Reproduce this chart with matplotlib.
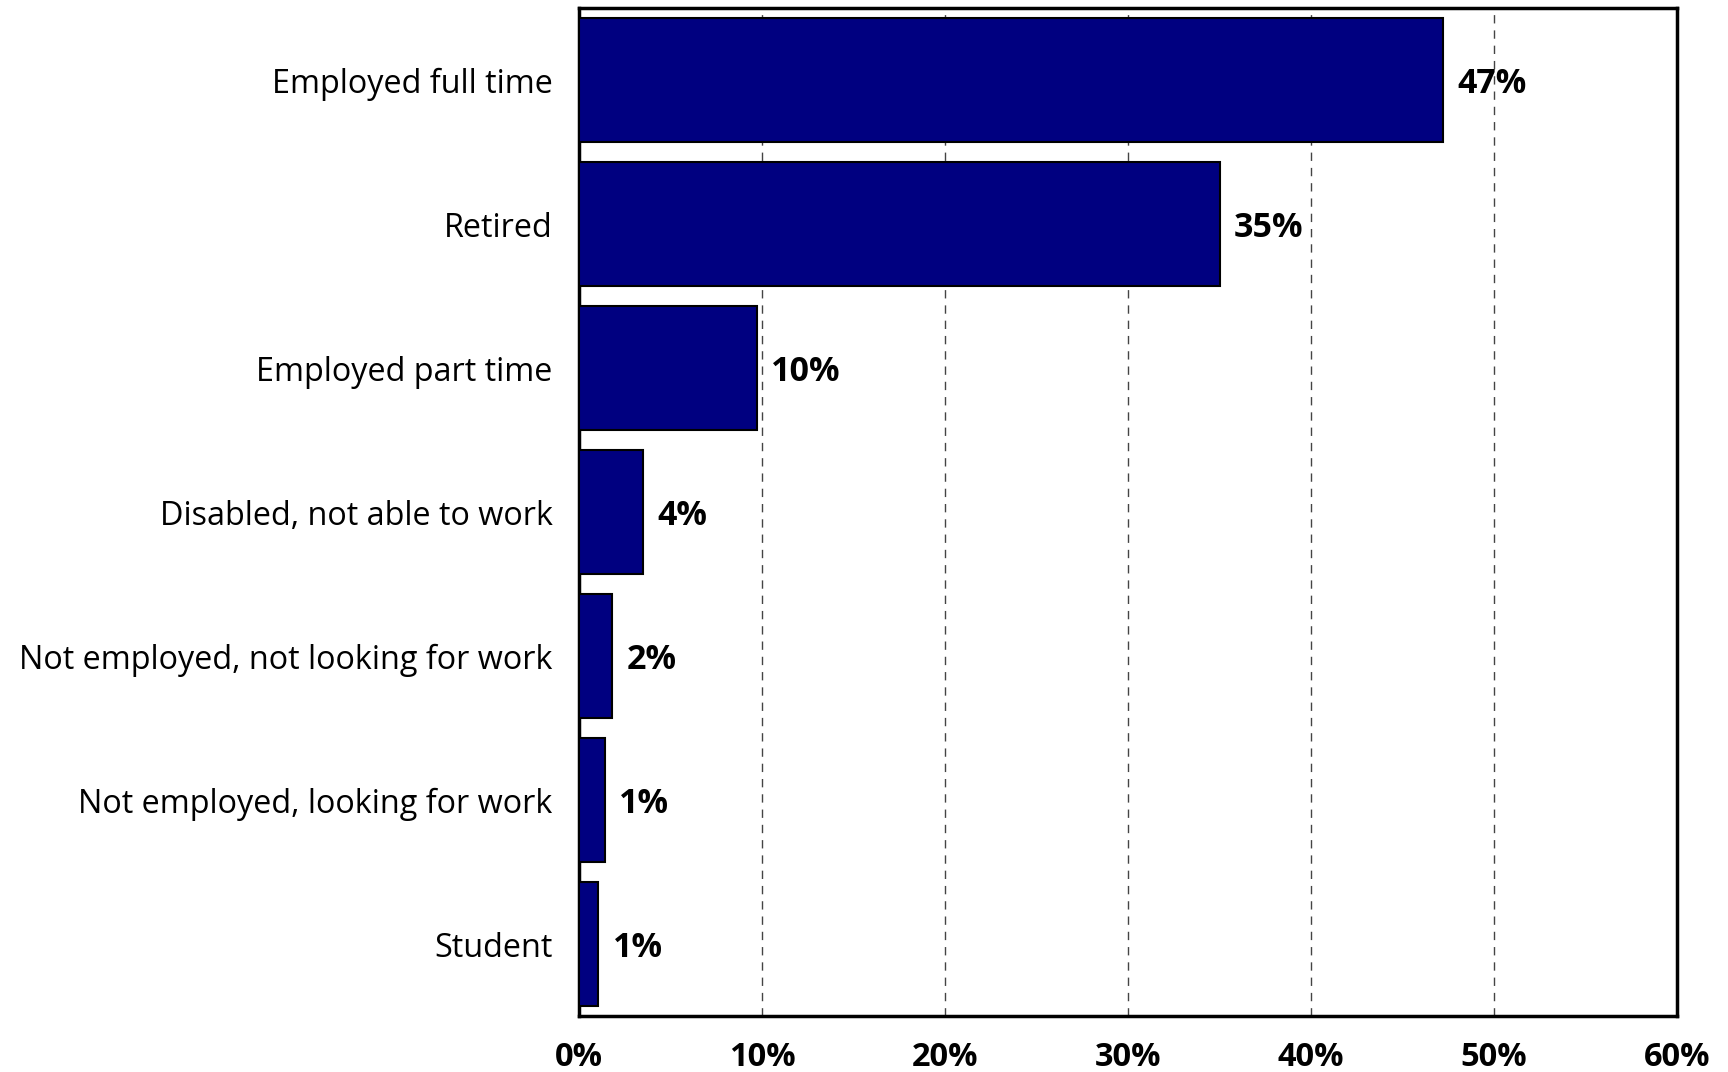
import matplotlib
matplotlib.use("Agg")
import matplotlib.pyplot as plt

categories = ["Employed full time", "Retired", "Employed part time",
              "Disabled, not able to work", "Not employed, not looking for work",
              "Not employed, looking for work", "Student"]
values = [47.2, 35.0, 9.7, 3.5, 1.8, 1.4, 1.05]
labels = ["47%", "35%", "10%", "4%", "2%", "1%", "1%"]
xticks = [0, 10, 20, 30, 40, 50, 60]
xticklabels = ["0%", "10%", "20%", "30%", "40%", "50%", "60%"]

plt.rcParams['font.family'] = ['Open Sans', 'DejaVu Sans']

fig = plt.figure(figsize=(17.28, 10.72), dpi=100)
ax = fig.add_axes([579/1728, 1 - 1016/1072, (1677-579)/1728, (1016-8)/1072])

y = list(range(len(categories)))
ax.barh(y, values, height=0.86, color="#000080", edgecolor="black", linewidth=1.5, zorder=3)
for yi, v, lab in zip(y, values, labels):
    ax.text(v + 0.8, yi, lab, va="center_baseline", ha="left", fontsize=24.5,
            fontweight="bold", zorder=4)

ax.set_xlim(0, 60)
ax.set_ylim(len(categories) - 0.5, -0.5)
ax.set_xticks(xticks)
ax.set_xticklabels(xticklabels, fontsize=23.5, fontweight="bold")
ax.set_yticks(y)
ax.set_yticklabels(categories, fontsize=23.3)
ax.tick_params(axis="x", length=0, pad=18)
ax.tick_params(axis="y", length=0, pad=19)
ax.xaxis.grid(True, linestyle=(0, (6, 5)), color="#444444", linewidth=1, zorder=0)
for s in ax.spines.values():
    s.set_linewidth(2.5)
    s.set_color("black")

fig.savefig("out.png", dpi=100)
